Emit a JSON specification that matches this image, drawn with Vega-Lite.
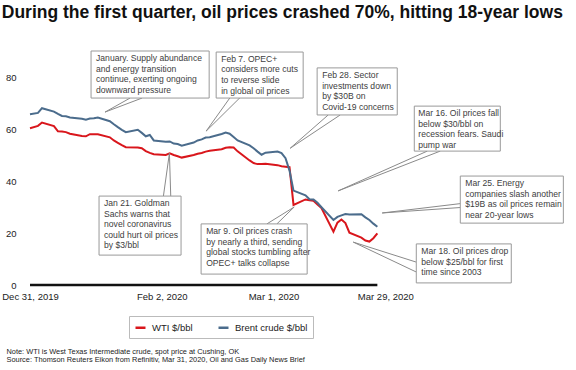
{
  "$schema": "https://vega.github.io/schema/vega-lite/v6.json",
  "autosize": {"type": "none"},
  "width": 543,
  "height": 260,
  "padding": {"left": 30, "top": 25, "right": 3, "bottom": 85},
  "background": "white",
  "config": {
    "view": {"stroke": null},
    "font": "Liberation Sans",
    "axis": {"labelFont": "Liberation Sans", "titleFont": "Liberation Sans"},
    "legend": {"labelFont": "Liberation Sans"}
  },
  "title": {
    "text": "During the first quarter, oil prices crashed 70%, hitting 18-year lows",
    "anchor": "start",
    "frame": "bounds",
    "font": "Liberation Sans",
    "fontSize": 17.5,
    "fontWeight": "bold",
    "color": "#111111",
    "offset": 4
  },
  "datasets": {
    "prices": [
      {"date": "2019-12-31T00:00", "WTI $/bbl": 60.3, "Brent crude $/bbl": 65.7},
      {"date": "2020-01-02T00:00", "WTI $/bbl": 61.2, "Brent crude $/bbl": 66.2},
      {"date": "2020-01-03T00:00", "WTI $/bbl": 62.5, "Brent crude $/bbl": 68.0},
      {"date": "2020-01-06T00:00", "WTI $/bbl": 61.1, "Brent crude $/bbl": 66.7},
      {"date": "2020-01-07T00:00", "WTI $/bbl": 59.1, "Brent crude $/bbl": 65.8},
      {"date": "2020-01-08T00:00", "WTI $/bbl": 59.0, "Brent crude $/bbl": 65.0},
      {"date": "2020-01-09T00:00", "WTI $/bbl": 58.8, "Brent crude $/bbl": 64.9},
      {"date": "2020-01-10T00:00", "WTI $/bbl": 58.2, "Brent crude $/bbl": 64.4},
      {"date": "2020-01-13T00:00", "WTI $/bbl": 57.3, "Brent crude $/bbl": 63.9},
      {"date": "2020-01-14T00:00", "WTI $/bbl": 57.2, "Brent crude $/bbl": 63.6},
      {"date": "2020-01-15T00:00", "WTI $/bbl": 58.0, "Brent crude $/bbl": 64.0},
      {"date": "2020-01-16T00:00", "WTI $/bbl": 58.0, "Brent crude $/bbl": 64.1},
      {"date": "2020-01-17T00:00", "WTI $/bbl": 58.0, "Brent crude $/bbl": 64.4},
      {"date": "2020-01-20T00:00", "WTI $/bbl": 56.8, "Brent crude $/bbl": 63.0},
      {"date": "2020-01-21T00:00", "WTI $/bbl": 55.6, "Brent crude $/bbl": 61.8},
      {"date": "2020-01-22T00:00", "WTI $/bbl": 54.7, "Brent crude $/bbl": 60.7},
      {"date": "2020-01-23T00:00", "WTI $/bbl": 53.8, "Brent crude $/bbl": 59.7},
      {"date": "2020-01-24T00:00", "WTI $/bbl": 53.0, "Brent crude $/bbl": 58.8},
      {"date": "2020-01-27T00:00", "WTI $/bbl": 52.9, "Brent crude $/bbl": 59.7},
      {"date": "2020-01-28T00:00", "WTI $/bbl": 52.6, "Brent crude $/bbl": 58.5},
      {"date": "2020-01-29T00:00", "WTI $/bbl": 51.5, "Brent crude $/bbl": 57.2},
      {"date": "2020-01-30T00:00", "WTI $/bbl": 50.8, "Brent crude $/bbl": 57.7},
      {"date": "2020-01-31T00:00", "WTI $/bbl": 50.3, "Brent crude $/bbl": 55.6},
      {"date": "2020-02-03T00:00", "WTI $/bbl": 50.0, "Brent crude $/bbl": 55.1},
      {"date": "2020-02-04T00:00", "WTI $/bbl": 50.6, "Brent crude $/bbl": 55.2},
      {"date": "2020-02-05T00:00", "WTI $/bbl": 50.0, "Brent crude $/bbl": 54.4},
      {"date": "2020-02-06T00:00", "WTI $/bbl": 49.5, "Brent crude $/bbl": 54.2},
      {"date": "2020-02-07T00:00", "WTI $/bbl": 49.0, "Brent crude $/bbl": 53.6},
      {"date": "2020-02-10T00:00", "WTI $/bbl": 50.0, "Brent crude $/bbl": 54.8},
      {"date": "2020-02-11T00:00", "WTI $/bbl": 50.5, "Brent crude $/bbl": 55.6},
      {"date": "2020-02-12T00:00", "WTI $/bbl": 50.8, "Brent crude $/bbl": 56.0},
      {"date": "2020-02-13T00:00", "WTI $/bbl": 51.3, "Brent crude $/bbl": 56.7},
      {"date": "2020-02-14T00:00", "WTI $/bbl": 51.6, "Brent crude $/bbl": 56.8},
      {"date": "2020-02-17T00:00", "WTI $/bbl": 52.2, "Brent crude $/bbl": 58.1},
      {"date": "2020-02-18T00:00", "WTI $/bbl": 52.8, "Brent crude $/bbl": 58.6},
      {"date": "2020-02-19T00:00", "WTI $/bbl": 53.0, "Brent crude $/bbl": 58.2},
      {"date": "2020-02-20T00:00", "WTI $/bbl": 52.9, "Brent crude $/bbl": 56.9},
      {"date": "2020-02-21T00:00", "WTI $/bbl": 51.4, "Brent crude $/bbl": 55.6},
      {"date": "2020-02-24T00:00", "WTI $/bbl": 47.9, "Brent crude $/bbl": 53.7},
      {"date": "2020-02-25T00:00", "WTI $/bbl": 46.9, "Brent crude $/bbl": 52.6},
      {"date": "2020-02-26T00:00", "WTI $/bbl": 46.5, "Brent crude $/bbl": 51.3},
      {"date": "2020-02-27T00:00", "WTI $/bbl": 46.5, "Brent crude $/bbl": 50.1},
      {"date": "2020-02-28T00:00", "WTI $/bbl": 46.6, "Brent crude $/bbl": 50.9},
      {"date": "2020-03-02T00:00", "WTI $/bbl": 46.1, "Brent crude $/bbl": 51.3},
      {"date": "2020-03-03T00:00", "WTI $/bbl": 45.7, "Brent crude $/bbl": 50.7},
      {"date": "2020-03-04T00:00", "WTI $/bbl": 45.5, "Brent crude $/bbl": 48.8},
      {"date": "2020-03-05T00:00", "WTI $/bbl": 45.3, "Brent crude $/bbl": 44.0},
      {"date": "2020-03-06T00:00", "WTI $/bbl": 30.8, "Brent crude $/bbl": 36.3},
      {"date": "2020-03-09T00:00", "WTI $/bbl": 32.9, "Brent crude $/bbl": 34.5},
      {"date": "2020-03-10T00:00", "WTI $/bbl": 32.6, "Brent crude $/bbl": 33.0},
      {"date": "2020-03-11T00:00", "WTI $/bbl": 32.4, "Brent crude $/bbl": 32.9},
      {"date": "2020-03-12T00:00", "WTI $/bbl": 31.0, "Brent crude $/bbl": 31.6},
      {"date": "2020-03-13T00:00", "WTI $/bbl": 29.6, "Brent crude $/bbl": 29.9},
      {"date": "2020-03-16T00:00", "WTI $/bbl": 20.5, "Brent crude $/bbl": 25.0},
      {"date": "2020-03-17T00:00", "WTI $/bbl": 24.0, "Brent crude $/bbl": 26.2},
      {"date": "2020-03-18T00:00", "WTI $/bbl": 25.2, "Brent crude $/bbl": 26.8},
      {"date": "2020-03-19T00:00", "WTI $/bbl": 23.8, "Brent crude $/bbl": 27.3},
      {"date": "2020-03-20T00:00", "WTI $/bbl": 20.1, "Brent crude $/bbl": 27.1},
      {"date": "2020-03-23T00:00", "WTI $/bbl": 18.2, "Brent crude $/bbl": 27.2},
      {"date": "2020-03-24T00:00", "WTI $/bbl": 17.1, "Brent crude $/bbl": 26.0},
      {"date": "2020-03-25T00:00", "WTI $/bbl": 16.7, "Brent crude $/bbl": 25.0},
      {"date": "2020-03-26T00:00", "WTI $/bbl": 18.0, "Brent crude $/bbl": 23.6},
      {"date": "2020-03-27T00:00", "WTI $/bbl": 19.9, "Brent crude $/bbl": 22.4}
    ],
    "boxes": [
      {"x1": "2020-01-15T07:00", "x2": "2020-02-13T21:00", "y1": 90.0, "y2": 71.9, "tx": "2020-01-16T13:00", "ty": 88.8, "label": "January. Supply abundance\nand energy transition\ncontinue, exerting ongoing\ndownward pressure"},
      {"x1": "2020-02-15T15:00", "x2": "2020-03-08T10:00", "y1": 89.6, "y2": 71.9, "tx": "2020-02-16T21:00", "ty": 88.5, "label": "Feb 7. OPEC+\nconsiders more cuts\nto reverse slide\nin global oil prices"},
      {"x1": "2020-03-11T22:00", "x2": "2020-03-31T23:30", "y1": 83.5, "y2": 65.4, "tx": "2020-03-13T04:00", "ty": 82.3, "label": "Feb 28. Sector\ninvestments down\nby $30B on\nCovid-19 concerns"},
      {"x1": "2020-04-05T06:00", "x2": "2020-04-26T19:00", "y1": 68.8, "y2": 51.5, "tx": "2020-04-06T06:00", "ty": 67.7, "label": "Mar 16. Oil prices fall\nbelow $30/bbl on\nrecession fears. Saudi\npump war"},
      {"x1": "2020-04-16T18:30", "x2": "2020-05-12T14:00", "y1": 41.9, "y2": 23.8, "tx": "2020-04-18T00:30", "ty": 40.8, "label": "Mar 25. Energy\ncompanies slash another\n$19B as oil prices remain\nnear 20-year lows"},
      {"x1": "2020-04-05T18:00", "x2": "2020-04-29T13:00", "y1": 15.8, "y2": 0.8, "tx": "2020-04-07T00:00", "ty": 14.6, "label": "Mar 18. Oil prices drop\nbelow $25/bbl for first\ntime since 2003"},
      {"x1": "2020-01-17T07:00", "x2": "2020-02-06T20:00", "y1": 34.2, "y2": 11.5, "tx": "2020-01-18T13:00", "ty": 33.1, "label": "Jan 21. Goldman\nSachs warns that\nnovel coronavirus\ncould hurt oil prices\nby $3/bbl"},
      {"x1": "2020-02-11T20:30", "x2": "2020-03-09T10:00", "y1": 23.5, "y2": 4.2, "tx": "2020-02-13T03:00", "ty": 22.3, "label": "Mar 9. Oil prices crash\nby nearly a third, sending\nglobal stocks tumbling after\nOPEC+ talks collapse"}
    ],
    "wedges": [
      {"bx": "2020-01-25T01:30", "by": 71.9, "px": "2020-01-18T19:00", "py": 66.5},
      {"bx": "2020-01-28T01:40", "by": 71.9, "px": "2020-01-18T19:00", "py": 66.5},
      {"bx": "2020-02-19T03:00", "by": 72.1, "px": "2020-02-13T03:00", "py": 59.2},
      {"bx": "2020-02-21T15:00", "by": 72.1, "px": "2020-02-13T03:00", "py": 59.2},
      {"bx": "2020-03-14T16:30", "by": 65.4, "px": "2020-03-05T04:00", "py": 52.6},
      {"bx": "2020-03-17T16:30", "by": 65.4, "px": "2020-03-05T04:00", "py": 52.6},
      {"bx": "2020-04-08T12:00", "by": 51.5, "px": "2020-03-17T04:30", "py": 36.2},
      {"bx": "2020-04-11T18:00", "by": 51.5, "px": "2020-03-17T04:30", "py": 36.2},
      {"bx": "2020-04-16T18:30", "by": 31.3, "px": "2020-03-28T05:00", "py": 27.7},
      {"bx": "2020-04-16T18:30", "by": 29.8, "px": "2020-03-28T05:00", "py": 27.7},
      {"bx": "2020-04-05T18:00", "by": 8.8, "px": "2020-03-20T23:00", "py": 16.5},
      {"bx": "2020-04-05T18:00", "by": 5.0, "px": "2020-03-20T23:00", "py": 16.5},
      {"bx": "2020-02-02T10:00", "by": 34.2, "px": "2020-02-03T22:00", "py": 50.7},
      {"bx": "2020-02-04T06:00", "by": 34.2, "px": "2020-02-03T22:00", "py": 50.7},
      {"bx": "2020-02-28T08:00", "by": 23.5, "px": "2020-03-06T04:00", "py": 30.0},
      {"bx": "2020-03-01T20:00", "by": 23.5, "px": "2020-03-06T04:00", "py": 30.0}
    ]
  },
  "layer": [
    {
      "data": {"name": "prices"},
      "transform": [{"fold": ["WTI $/bbl", "Brent crude $/bbl"], "as": ["series", "value"]}],
      "mark": {"type": "line", "strokeWidth": 2},
      "encoding": {
        "x": {
          "field": "date", "type": "temporal",
          "scale": {"domain": [{"year": 2019, "month": 12, "date": 31}, {"year": 2020, "month": 5, "date": 15}]},
          "axis": {
            "values": [{"year": 2019, "month": 12, "date": 31}, {"year": 2020, "month": 2, "date": 2}, {"year": 2020, "month": 3, "date": 1}, {"year": 2020, "month": 3, "date": 29}],
            "format": "%b %-d, %Y",
            "labelFlush": false,
            "labelOverlap": false,
            "domain": false,
            "ticks": false,
            "grid": false,
            "labelPadding": 6,
            "labelFontSize": 9.5,
            "labelColor": "#222222",
            "title": ["Note: WTI is West Texas Intermediate crude, spot price at Cushing, OK", "Source: Thomson Reuters Eikon from Refinitiv,  Mar 31, 2020, Oil and Gas Daily News Brief"],
            "titleFontSize": 7.4,
            "titleFontWeight": "normal",
            "titleColor": "#222222",
            "titleAnchor": "start",
            "titleAlign": "left",
            "titleBaseline": "top",
            "titleX": -24,
            "titleY": 62,
            "titleLineHeight": 8.5
          }
        },
        "y": {
          "field": "value", "type": "quantitative",
          "scale": {"domain": [0, 100], "nice": false},
          "axis": {"values": [0, 20, 40, 60, 80], "domain": false, "ticks": false, "grid": false, "labelPadding": 14, "labelFontSize": 9.5, "labelColor": "#222222", "title": null}
        },
        "color": {
          "field": "series", "type": "nominal",
          "scale": {"domain": ["WTI $/bbl", "Brent crude $/bbl"], "range": ["#d9161c", "#4b6c8c"]},
          "legend": {
            "orient": "none", "legendX": 99, "legendY": 291,
            "direction": "horizontal", "title": null,
            "symbolType": "stroke", "symbolStrokeWidth": 2.5, "symbolSize": 100,
            "labelFontSize": 9.5, "labelColor": "#222222", "labelOffset": 5,
            "strokeColor": "#bbbbbb", "fillColor": "white", "padding": 5, "columnPadding": 20
          }
        }
      }
    },
    {
      "data": {"name": "prices"},
      "mark": {"type": "rule", "color": "#111111", "strokeWidth": 2.5},
      "encoding": {
        "x": {"aggregate": "min", "field": "date", "type": "temporal"},
        "x2": {"aggregate": "max", "field": "date"},
        "y": {"datum": 0}
      }
    },
    {
      "data": {"name": "wedges"},
      "mark": {"type": "rule", "color": "#8a8a8a", "strokeWidth": 1},
      "encoding": {
        "x": {"field": "bx", "type": "temporal"},
        "y": {"field": "by", "type": "quantitative"},
        "x2": {"field": "px"},
        "y2": {"field": "py"}
      }
    },
    {
      "data": {"name": "boxes"},
      "mark": {"type": "rect", "fill": "white", "stroke": "#999999", "strokeWidth": 1},
      "encoding": {
        "x": {"field": "x1", "type": "temporal"},
        "x2": {"field": "x2"},
        "y": {"field": "y1", "type": "quantitative"},
        "y2": {"field": "y2"}
      }
    },
    {
      "data": {"name": "boxes"},
      "mark": {"type": "text", "align": "left", "baseline": "top", "fontSize": 8.6, "lineHeight": 10.6, "lineBreak": "\n", "color": "#404040", "font": "Liberation Sans"},
      "encoding": {
        "x": {"field": "tx", "type": "temporal"},
        "y": {"field": "ty", "type": "quantitative"},
        "text": {"field": "label", "type": "nominal"}
      }
    }
  ]
}
